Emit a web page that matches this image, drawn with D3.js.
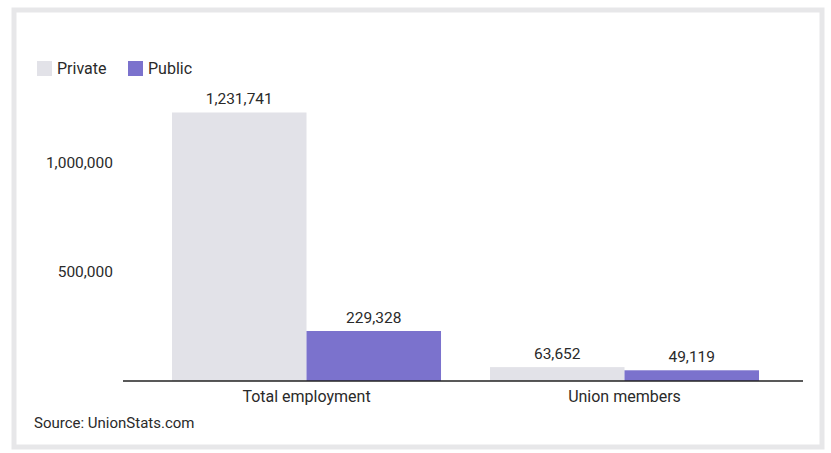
<!DOCTYPE html>
<html>
<head>
<meta charset="utf-8">
<script src="https://cdn.jsdelivr.net/npm/d3@7"></script>
<style>
  html, body { margin: 0; padding: 0; background: #ffffff; }
  svg { display: block; font-family: Roboto, "Noto Sans", sans-serif; }
</style>
</head>
<body>
<svg id="chart" width="831" height="453"></svg>
<script>
// Employment by sector
const categories = ["Total employment", "Union members"];
const seriesNames = ["Private", "Public"];
const privateValues = [1231741, 63652];
const publicValues = [229328, 49119];
const yTicks = [500000, 1000000];
const source = "Source: UnionStats.com";

const colors = { Private: "#e2e2e8", Public: "#7b72cd" };
const textColor = "#2a2a2a";

const svg = d3.select("#chart");

// Card frame
svg.append("rect")
  .attr("x", 14).attr("y", 10)
  .attr("width", 808).attr("height", 437)
  .attr("fill", "#ffffff")
  .attr("stroke", "#e7e7e9")
  .attr("stroke-width", 5);

const baseline = 381;
const y = d3.scaleLinear().domain([0, 1000000]).range([baseline, baseline - 218]);

const x0 = d3.scaleBand()
  .domain(categories)
  .range([147.5, 783.5])
  .paddingInner(0.154)
  .paddingOuter(0.077);

const x1 = d3.scaleBand()
  .domain(seriesNames)
  .range([0, x0.bandwidth()]);

const rows = categories.map((c, i) => ({
  category: c,
  values: [
    { series: "Private", value: privateValues[i] },
    { series: "Public", value: publicValues[i] }
  ]
}));

// Y axis labels (no line, no zero label)
const yAxis = d3.axisLeft(y)
  .tickValues(yTicks)
  .tickFormat(d3.format(","))
  .tickSize(0)
  .tickPadding(0);

const yG = svg.append("g")
  .attr("transform", "translate(113,0)")
  .call(yAxis);
yG.select(".domain").remove();
yG.selectAll("text")
  .attr("fill", textColor)
  .style("font-size", "15.5px")
  .style("font-family", "Roboto, sans-serif");

// Bars
const groups = svg.append("g").selectAll("g")
  .data(rows)
  .join("g")
  .attr("transform", d => `translate(${x0(d.category)},0)`);

groups.selectAll("rect")
  .data(d => d.values)
  .join("rect")
  .attr("x", d => x1(d.series))
  .attr("y", d => y(d.value))
  .attr("width", x1.bandwidth())
  .attr("height", d => baseline - y(d.value))
  .attr("fill", d => colors[d.series]);

groups.selectAll("text.value")
  .data(d => d.values)
  .join("text")
  .attr("class", "value")
  .attr("x", d => x1(d.series) + x1.bandwidth() / 2)
  .attr("y", d => y(d.value) - 8)
  .attr("text-anchor", "middle")
  .attr("fill", textColor)
  .style("font-size", "15.5px")
  .text(d => d3.format(",")(d.value));

// Category labels
const xAxis = d3.axisBottom(x0).tickSize(0).tickPadding(10);
const xG = svg.append("g")
  .attr("transform", `translate(0,${baseline})`)
  .call(xAxis);
xG.select(".domain").remove();
xG.selectAll("text")
  .attr("fill", textColor)
  .style("font-size", "16px")
  .style("font-family", "Roboto, sans-serif");

// Baseline
svg.append("line")
  .attr("x1", 123).attr("x2", 803)
  .attr("y1", baseline).attr("y2", baseline)
  .attr("stroke", "#222")
  .attr("stroke-width", 1.6);

// Legend
const legend = svg.append("g").attr("transform", "translate(37,61)");
const legendX = [0, 91];
seriesNames.forEach((s, i) => {
  const g = legend.append("g").attr("transform", `translate(${legendX[i]},0)`);
  g.append("rect").attr("width", 15).attr("height", 15).attr("fill", colors[s]);
  g.append("text")
    .attr("x", 20).attr("y", 13)
    .attr("fill", textColor)
    .style("font-size", "16px")
    .text(s);
});

// Source note
svg.append("text")
  .attr("x", 34).attr("y", 428)
  .attr("fill", textColor)
  .style("font-size", "15px")
  .text(source);
</script>
</body>
</html>
